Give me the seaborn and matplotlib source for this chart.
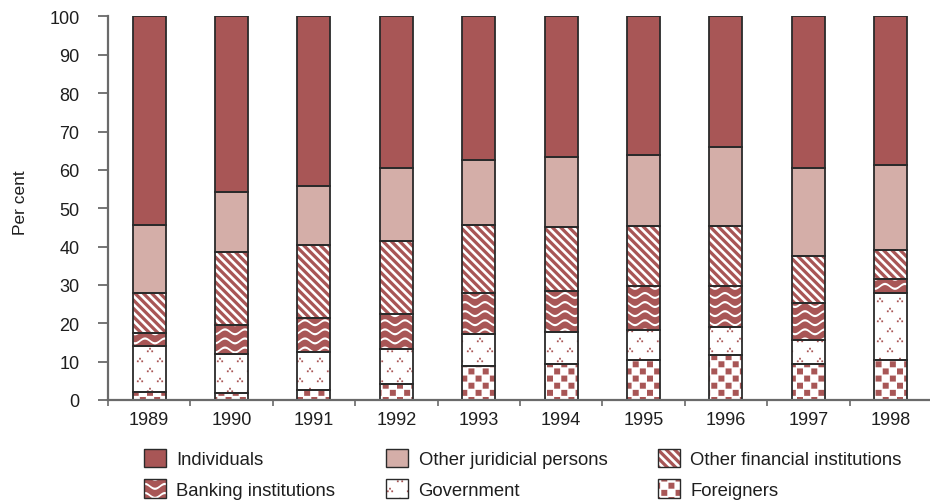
import numpy as np
import matplotlib
matplotlib.use("Agg")
import matplotlib.pyplot as plt
import matplotlib.hatch as mhatch
from matplotlib.path import Path
from matplotlib.patches import Patch
from matplotlib.legend_handler import HandlerTuple
from matplotlib.ticker import FixedLocator
import seaborn as sns

# ---------------------------------------------------------------- data (per cent)
years = ["1989", "1990", "1991", "1992", "1993", "1994", "1995", "1996", "1997", "1998"]
foreigners = [2.2, 1.9, 2.7, 4.2, 8.9, 9.4, 10.4, 11.8, 9.3, 10.5]
government = [11.8, 10.2, 9.9, 9.1, 8.4, 8.4, 7.9, 7.2, 6.4, 17.3]
banking = [3.5, 7.5, 8.9, 9.0, 10.7, 10.6, 11.3, 10.8, 9.5, 3.7]
other_financial = [10.3, 19.1, 18.8, 19.1, 17.5, 16.8, 15.7, 15.5, 12.3, 7.5]
other_juridicial = [17.9, 15.5, 15.4, 19.0, 17.2, 18.2, 18.6, 20.6, 22.9, 22.4]
individuals = [54.3, 45.8, 44.3, 39.6, 37.3, 36.6, 36.1, 34.1, 39.6, 38.6]

RED = "#A85656"
PINK = "#D4AEA8"
OUTLINE = "#2a2a2a"
AXIS = "#6a6a6a"
TEXT = "#1e1e1e"


# ---------------------------------------------------------------- fill textures
# Each texture is a set of closed polygons in the unit hatch tile (1 inch).
def _closed(polys):
    verts, codes = [], []
    for p in polys:
        p = np.asarray(p, float)
        verts.append(p)
        verts.append(p[:1])
        codes += [Path.MOVETO] + [Path.LINETO] * (len(p) - 1) + [Path.CLOSEPOLY]
    return np.concatenate(verts), np.asarray(codes, dtype=Path.code_type)


def _texture(char, polys):
    verts, codes = _closed(polys)

    class Texture(mhatch.HatchPatternBase):
        def __init__(self, hatch, density):
            self.num_vertices = len(verts) if char in hatch else 0

        def set_vertices_and_codes(self, vertices, codes_out):
            vertices[:] = verts
            codes_out[:] = codes

    return Texture


def stripes(n=12, frac=0.55):
    half = frac / n / 2
    polys = []
    for k in range(-2, 2 * n + 3):
        c = k / n
        polys.append([(-0.2, c - half + 0.2), (1.2, c - half - 1.2),
                      (1.2, c + half - 1.2), (-0.2, c + half + 0.2)])
    return polys


def waves(rows=11, periods=5, amp=0.024, thick=0.022):
    xs = np.linspace(0, 1, 201)
    polys = []
    for j in range(rows):
        yc = (j + 0.5) / rows + amp * np.sin(2 * np.pi * periods * xs)
        upper = np.column_stack([xs, yc + thick / 2])
        lower = np.column_stack([xs[::-1], (yc - thick / 2)[::-1]])
        polys.append(np.vstack([upper, lower]))
    return polys


def _square(cx, cy, s):
    h = s / 2
    return [(cx - h, cy - h), (cx + h, cy - h), (cx + h, cy + h), (cx - h, cy + h)]


def clusters(dot=0.018, dx=0.022, dy=0.013):
    polys = []
    for j in range(11):
        y = j * 0.1
        for x in np.arange(0.0 if j % 2 == 0 else 0.1, 1.0001, 0.2):
            for ox, oy in [(0, dy), (-dx, -dy), (dx, -dy)]:
                polys.append(_square(x + ox, y + oy, dot))
    return polys


def squares(per_inch=7, side=0.06):
    polys = []
    step = 1 / per_inch
    for j in range(2 * per_inch + 1):
        y = j * step / 2
        for x in np.arange(0.0 if j % 2 == 0 else step / 2, 1.0001, step):
            polys.append(_square(x, y, side))
    return polys


mhatch._hatch_types[:] = [
    _texture("\\", stripes()),
    _texture("o", waves()),
    _texture(".", clusters()),
    _texture("O", squares()),
]

# ---------------------------------------------------------------- style
sns.set_theme(style="ticks")
plt.rcParams["font.family"] = ["Liberation Sans", "DejaVu Sans"]
plt.rcParams["hatch.linewidth"] = 0.0
plt.rcParams["text.color"] = TEXT
plt.rcParams["axes.labelcolor"] = TEXT
plt.rcParams["xtick.color"] = AXIS
plt.rcParams["ytick.color"] = AXIS
plt.rcParams["xtick.labelcolor"] = TEXT
plt.rcParams["ytick.labelcolor"] = TEXT

fig = plt.figure(figsize=(9.3, 5.02), dpi=100)
ax = fig.add_axes([0.1161, 0.2012, 0.886, 0.764])

# name, values, face colour, texture colour, texture
layers = [
    ("Foreigners", foreigners, "white", RED, "O"),
    ("Government", government, "white", RED, "."),
    ("Banking institutions", banking, RED, "white", "o"),
    ("Other financial institutions", other_financial, "white", RED, "\\"),
    ("Other juridicial persons", other_juridicial, PINK, PINK, None),
    ("Individuals", individuals, RED, RED, None),
]

BAR_W = 0.4
bottoms = np.concatenate([[np.zeros(len(years))],
                          np.cumsum([l[1] for l in layers], axis=0)[:-1]])

# textured fills first, then the dark outlines on top of every segment
for (name, vals, fc, hc, tex), bottom in zip(layers, bottoms):
    sns.barplot(x=years, y=vals, bottom=bottom, color=fc, saturation=1,
                edgecolor=hc, linewidth=0, hatch=tex, width=BAR_W,
                errorbar=None, ax=ax)

for (name, vals, fc, hc, tex), bottom in zip(layers, bottoms):
    sns.barplot(x=years, y=vals, bottom=bottom, fill=False, color=OUTLINE,
                linewidth=1.3, width=BAR_W, errorbar=None, ax=ax)

# ---------------------------------------------------------------- axes
ax.set_xlim(-0.5, len(years) - 0.5)
ax.set_ylim(0, 100)
ax.set_yticks(range(0, 101, 10))
ax.set_xlabel("")
ax.set_ylabel("Per cent", fontsize=12.5)
ax.yaxis.set_label_coords(-0.097, 0.517)

ax.xaxis.set_minor_locator(FixedLocator(np.arange(-0.5, len(years) - 0.5, 1.0)))
ax.tick_params(axis="x", which="major", length=0, pad=8, labelsize=13)
ax.tick_params(axis="x", which="minor", length=4, width=1.2, direction="out")
ax.tick_params(axis="y", which="major", length=7, width=1.3, pad=13.5, labelsize=13)

for side in ("top", "right"):
    ax.spines[side].set_visible(False)
for side in ("left", "bottom"):
    ax.spines[side].set_color(AXIS)
    ax.spines[side].set_linewidth(1.6)
ax.grid(False)


# ---------------------------------------------------------------- legend
def handle(fc, hc, tex):
    return (Patch(facecolor=fc, edgecolor=hc, linewidth=0, hatch=tex),
            Patch(facecolor="none", edgecolor=OUTLINE, linewidth=1.0))


by_name = {l[0]: handle(*l[2:]) for l in layers}
order = ["Individuals", "Banking institutions", "Other juridicial persons",
         "Government", "Other financial institutions", "Foreigners"]
fig.legend([by_name[n] for n in order], order,
           handler_map={tuple: HandlerTuple(ndivide=1)},
           loc="upper left", bbox_to_anchor=(0.155, 0.104),
           ncol=3, frameon=False, fontsize=13.3, borderpad=0, borderaxespad=0,
           handlelength=1.2, handleheight=1.15, handletextpad=0.55,
           columnspacing=2.75, labelspacing=0.61)

fig.savefig("out.png", dpi=100)
